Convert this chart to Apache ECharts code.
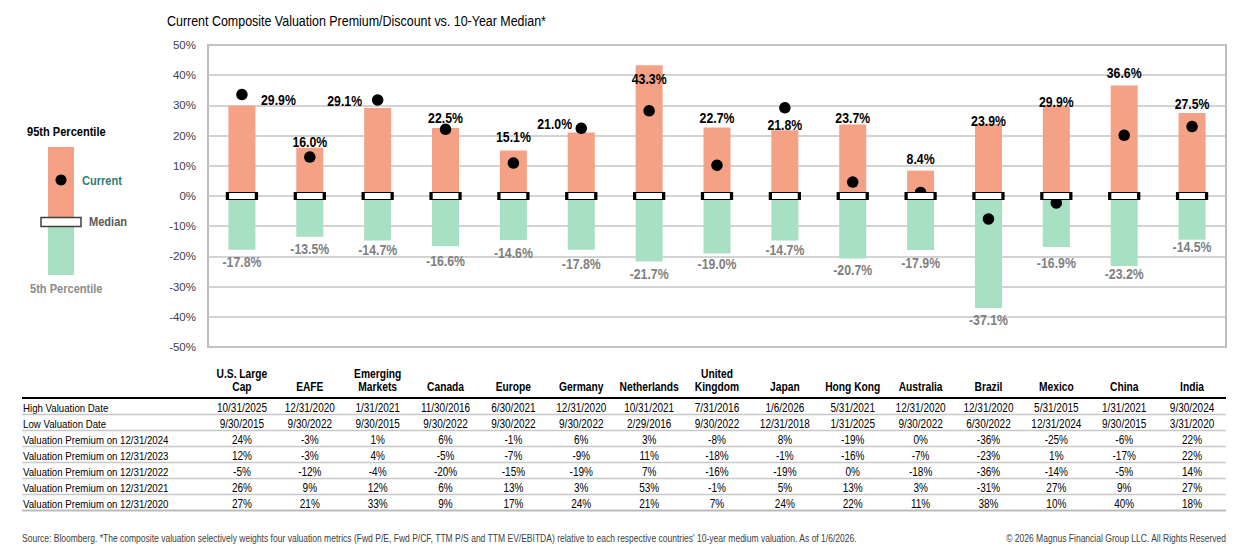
<!DOCTYPE html>
<html>
<head>
<meta charset="utf-8">
<script src="https://cdn.jsdelivr.net/npm/echarts@6/dist/echarts.min.js"></script>
<style>
  html, body { margin: 0; padding: 0; background: #ffffff; }
  #chart { width: 1256px; height: 550px; }
</style>
</head>
<body>
<div id="chart"></div>
<script>
// ---------------- DATA ----------------
const categories = ['U.S. Large Cap', 'EAFE', 'Emerging Markets', 'Canada', 'Europe', 'Germany', 'Netherlands',
  'United Kingdom', 'Japan', 'Hong Kong', 'Australia', 'Brazil', 'Mexico', 'China', 'India'];
const headerLabels = ['U.S. Large\nCap', 'EAFE', 'Emerging\nMarkets', 'Canada', 'Europe', 'Germany', 'Netherlands',
  'United\nKingdom', 'Japan', 'Hong Kong', 'Australia', 'Brazil', 'Mexico', 'China', 'India'];
const high95 = [29.9, 16.0, 29.1, 22.5, 15.1, 21.0, 43.3, 22.7, 21.8, 23.7, 8.4, 23.9, 29.9, 36.6, 27.5];
const low5 = [-17.8, -13.5, -14.7, -16.6, -14.6, -17.8, -21.7, -19.0, -14.7, -20.7, -17.9, -37.1, -16.9, -23.2, -14.5];
const current = [33.6, 12.9, 31.8, 22.1, 10.9, 22.4, 28.2, 10.2, 29.2, 4.6, 1.2, -7.6, -2.3, 20.1, 23.0];
const median = [0, 0, 0, 0, 0, 0, 0, 0, 0, 0, 0, 0, 0, 0, 0];

const highDates = ['10/31/2025', '12/31/2020', '1/31/2021', '11/30/2016', '6/30/2021', '12/31/2020', '10/31/2021',
  '7/31/2016', '1/6/2026', '5/31/2021', '12/31/2020', '12/31/2020', '5/31/2015', '1/31/2021', '9/30/2024'];
const lowDates = ['9/30/2015', '9/30/2022', '9/30/2015', '9/30/2022', '9/30/2022', '9/30/2022', '2/29/2016',
  '9/30/2022', '12/31/2018', '1/31/2025', '9/30/2022', '6/30/2022', '12/31/2024', '9/30/2015', '3/31/2020'];
const prem2024 = [24, -3, 1, 6, -1, 6, 3, -8, 8, -19, 0, -36, -25, -6, 22];
const prem2023 = [12, -3, 4, -5, -7, -9, 11, -18, -1, -16, -7, -23, 1, -17, 22];
const prem2022 = [-5, -12, -4, -20, -15, -19, 7, -16, -19, 0, -18, -36, -14, -5, 14];
const prem2021 = [26, 9, 12, 6, 13, 3, 53, -1, 5, 13, 3, -31, 27, 9, 27];
const prem2020 = [27, 21, 33, 9, 17, 24, 21, 7, 24, 22, 11, 38, 10, 40, 18];

const yTicks = { min: -50, max: 50, interval: 10 };

const tableRows = [
  ['High Valuation Date', highDates, v => v],
  ['Low Valuation Date', lowDates, v => v],
  ['Valuation Premium on 12/31/2024', prem2024, v => v + '%'],
  ['Valuation Premium on 12/31/2023', prem2023, v => v + '%'],
  ['Valuation Premium on 12/31/2022', prem2022, v => v + '%'],
  ['Valuation Premium on 12/31/2021', prem2021, v => v + '%'],
  ['Valuation Premium on 12/31/2020', prem2020, v => v + '%']
];

const titleText = 'Current Composite Valuation Premium/Discount vs. 10-Year Median*';
const sourceText = "Source: Bloomberg. *The composite valuation selectively weights four valuation metrics (Fwd P/E, Fwd P/CF, TTM P/S and TTM EV/EBITDA) relative to each respective countries' 10-year medium valuation. As of 1/6/2026.";
const copyrightText = '\u00A9 2026 Magnus Financial Group LLC. All Rights Reserved';

// ---------------- STYLE ----------------
const FONT = "'Liberation Sans', Arial, sans-serif";
const NARROW = 0.82;             // horizontal squeeze to mimic a narrow typeface
const ORANGE = '#F4A185';
const GREEN = '#A8E0C4';
const GRIDC = '#C4C4C4';

// label placement tweaks (pixel nudges relative to bar end)
const highLabelTweak = {
  'U.S. Large Cap': { dx: 36.5, lift: 6 }, 'EAFE': { lift: 5.7 }, 'Emerging Markets': { dx: -33, lift: 6.7 },
  'Canada': { lift: 9.6 }, 'Europe': { lift: 13.8 }, 'Germany': { dx: -26.6, lift: 8.7 },
  'Netherlands': { lift: -14.3 }, 'United Kingdom': { lift: 9.7 }, 'Japan': { lift: 5.3 },
  'Hong Kong': { lift: 6.6 }, 'Australia': { lift: 11.9 }, 'Brazil': { lift: 2.3 }, 'Mexico': { lift: 3.3 },
  'China': { lift: 12.3 }, 'India': { lift: 9.2 }
};
const lowLabelDrop = {
  'U.S. Large Cap': 12.7, 'EAFE': 11.9, 'Emerging Markets': 9.3, 'Canada': 14.6, 'Europe': 13.3, 'Germany': 14,
  'Netherlands': 12.3, 'United Kingdom': 10.4, 'Japan': 9.3, 'Hong Kong': 11.7, 'Australia': 13.4,
  'Brazil': 11.8, 'Mexico': 16.4, 'China': 8.5, 'India': 7.6
};

const chart = echarts.init(document.getElementById('chart'), null, { renderer: 'svg' });

const GRID = { left: 208, right: 30, top: 45, bottom: 203 };

const option = {
  animation: false,
  backgroundColor: '#ffffff',
  grid: Object.assign({ show: true, borderColor: '#BDBDBD', borderWidth: 2, backgroundColor: 'transparent' }, GRID),
  xAxis: {
    type: 'category',
    data: categories,
    axisLabel: { show: false },
    axisTick: { show: false },
    axisLine: { show: false },
    splitLine: { show: false }
  },
  yAxis: {
    type: 'value',
    min: yTicks.min, max: yTicks.max, interval: yTicks.interval,
    axisLabel: { formatter: '{value}%', fontFamily: FONT, fontSize: 11.5, color: '#404050', margin: 12 },
    axisLine: { show: false },
    axisTick: { show: false },
    splitLine: { lineStyle: { color: GRIDC, width: 1.5 } }
  },
  series: [
    {
      name: '95th Percentile', type: 'bar', barWidth: 27, barGap: '-100%', z: 2,
      itemStyle: { color: ORANGE }, data: high95
    },
    {
      name: '5th Percentile', type: 'bar', barWidth: 27, barGap: '-100%', z: 2,
      itemStyle: { color: GREEN }, data: low5
    },
    {
      name: 'Current', type: 'scatter', symbol: 'circle', symbolSize: 11.5, z: 4,
      itemStyle: { color: '#000000', opacity: 1 }, data: current
    },
    {
      name: 'Median', type: 'scatter', symbol: 'rect', symbolSize: [29, 7], z: 5,
      itemStyle: { color: '#ffffff', borderColor: '#000000', borderWidth: 1.6, opacity: 1 }, data: median
    }
  ],
  graphic: []
};

chart.setOption(option);

// ---------------- helpers ----------------
function txt(text, x, y, opts) {
  opts = opts || {};
  return {
    type: 'text', silent: true, z: 10,
    x: x, y: y, scaleX: opts.scaleX || NARROW, scaleY: 1, originX: 0, originY: 0,
    style: {
      text: text, x: 0, y: 0,
      fill: opts.fill || '#000000',
      font: (opts.weight || 'normal') + ' ' + (opts.size || 12) + 'px ' + FONT,
      textAlign: opts.align || 'left',
      textVerticalAlign: opts.valign || 'middle',
      lineHeight: opts.lineHeight
    }
  };
}
function rect(x, y, w, h, style) {
  return { type: 'rect', silent: true, z: 10, shape: { x: x, y: y, width: w, height: h }, style: style };
}
function line(x1, y1, x2, y2, color, width) {
  return { type: 'line', silent: true, z: 10, shape: { x1: x1, y1: y1, x2: x2, y2: y2 }, style: { stroke: color, lineWidth: width } };
}

const g = [];
// title
g.push(txt(titleText, 167, 21, { size: 15.2 }));

// bar-end value labels, placed through the chart's own scales
categories.forEach((c, i) => {
  const t = highLabelTweak[c] || {};
  const pHi = chart.convertToPixel({ gridIndex: 0 }, [i, high95[i]]);
  g.push(txt(high95[i].toFixed(1) + '%', pHi[0] + (t.dx || 0), pHi[1] - (t.lift || 0),
    { size: 15, weight: 'bold', align: 'center', fill: '#000000' }));
  const pLo = chart.convertToPixel({ gridIndex: 0 }, [i, low5[i]]);
  g.push(txt(low5[i].toFixed(1) + '%', pLo[0], pLo[1] + (lowLabelDrop[c] || 0),
    { size: 15, weight: 'bold', align: 'center', fill: '#7F7F7F' }));
});

// legend
g.push(txt('95th Percentile', 27, 132, { size: 13.5, weight: 'bold' }));
g.push(rect(48, 147, 26, 71, { fill: ORANGE }));
g.push(rect(48, 226, 26, 49, { fill: GREEN }));
g.push({ type: 'circle', silent: true, z: 11, shape: { cx: 61, cy: 180, r: 5.5 }, style: { fill: '#000000' } });
g.push(rect(41, 217.5, 40, 9, { fill: '#ffffff', stroke: '#404040', lineWidth: 1.5 }));
g.push(txt('Current', 82, 181, { size: 13.5, weight: 'bold', fill: '#2F7E76' }));
g.push(txt('Median', 89, 222, { size: 13.5, weight: 'bold', fill: '#595959' }));
g.push(txt('5th Percentile', 30, 289, { size: 13.5, weight: 'bold', fill: '#8C8C8C' }));

// table
const xs = categories.map((c, i) => chart.convertToPixel({ gridIndex: 0 }, [i, 0])[0]);
const tableLeft = 22, tableRight = 1226;
headerLabels.forEach((h, i) => {
  g.push(txt(h, xs[i], 393.5, { size: 12.5, weight: 'bold', align: 'center', valign: 'bottom', lineHeight: 13.5 }));
});
g.push(line(tableLeft, 398, tableRight, 398, '#000000', 2));
const rowCenters = [408, 423.5, 440, 456, 472, 488, 504];
const rowLines = [414.5, 430.5, 446.5, 462.5, 478.5, 494.5, 510.5];
tableRows.forEach((row, r) => {
  g.push(txt(row[0], tableLeft + 1, rowCenters[r], { size: 11.8 }));
  row[1].forEach((v, i) => {
    g.push(txt(row[2](v), xs[i], rowCenters[r], { size: 12.2, align: 'center' }));
  });
  const last = r === tableRows.length - 1;
  g.push(line(tableLeft, rowLines[r], tableRight, rowLines[r], last ? '#BBBBBB' : '#C8C8C8', last ? 2 : 1.5));
});

// footer
g.push(txt(sourceText, 22, 538, { size: 10.4, fill: '#404040' }));
g.push(txt(copyrightText, 1226, 538, { size: 10.4, fill: '#404040', align: 'right' }));

chart.setOption({ graphic: g });
</script>
</body>
</html>
